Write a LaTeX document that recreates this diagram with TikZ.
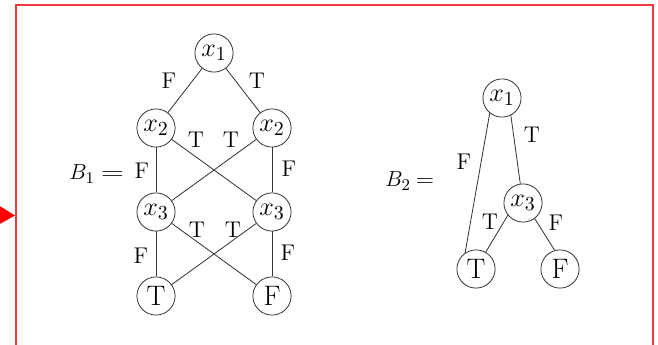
\documentclass[tikz,border=0pt]{standalone}
\usepackage{graphicx}
\begin{document}
\begin{tikzpicture}[x=0.55pt,y=-0.55pt,
  vnode/.style={circle,draw=black!80,line width=0.45pt,minimum size=21pt,inner sep=0pt,font=\fontsize{15.5}{17}\selectfont},
  edge/.style={draw=black!80,line width=0.45pt},
  lbl/.style={inner sep=0pt,font=\fontsize{12.5}{14}\selectfont},
  blbl/.style={inner sep=0pt,anchor=west,font=\fontsize{12.5}{14}\selectfont},
  frame/.style={draw={rgb,255:red,238;green,60;blue,60},line width=0.7pt}]
\useasboundingbox (0,0) rectangle (658,345);
% frame
\draw[frame] (16,345) -- (16,5) -- (653,5) -- (653,345);
\fill[red] (-2,205) -- (15,215.5) -- (-2,225) -- cycle;
% B1
\node[vnode] (a1) at (214,53) {$x_1$};
\node[vnode] (a2l) at (156,128) {$x_2$};
\node[vnode] (a2r) at (272,128) {$x_2$};
\node[vnode] (a3l) at (156,212) {$x_3$};
\node[vnode] (a3r) at (272,212) {$x_3$};
\node[vnode] (at) at (156,296) {T};
\node[vnode] (af) at (272,296) {F};
\draw[edge] (a1) -- (a2l);
\draw[edge] (a1) -- (a2r);
\draw[edge] (a2l) -- (a3l);
\draw[edge] (a2l) -- (a3r);
\draw[edge] (a2r) -- (a3l);
\draw[edge] (a2r) -- (a3r);
\draw[edge] (a3l) -- (at);
\draw[edge] (a3l) -- (af);
\draw[edge] (a3r) -- (at);
\draw[edge] (a3r) -- (af);
\node[lbl] (l1) at (169,81) {F};
\node[lbl] (l2) at (257,81) {T};
\node[lbl] (l3) at (196,140) {T};
\node[lbl] (l4) at (231,140) {T};
\node[lbl] (l5) at (142,171) {F};
\node[lbl] (l6) at (289,169) {F};
\node[lbl] (l7) at (197,230) {T};
\node[lbl] (l8) at (233,230) {T};
\node[lbl] (l9) at (141,256) {F};
\node[lbl] (l10) at (288,253) {F};
\node[blbl] (b1) at (69,174) {$B_1\mkern5mu\scalebox{1.4}[1]{$=$}$};
% B2
\node[vnode] (c1) at (502,98) {$x_1$};
\node[vnode] (c3) at (523,203) {$x_3$};
\node[vnode] (ct) at (476,269) {T};
\node[vnode] (cf) at (560,269) {F};
\draw[edge] (c1.231) -- (ct.124);
\draw[edge] (c1.297) -- (c3.98);
\draw[edge] (c3.219) -- (ct.60);
\draw[edge] (c3.307) -- (cf.106);
\node[lbl] (m1) at (464,162) {F};
\node[lbl] (m2) at (532,135) {T};
\node[lbl] (m3) at (490,222) {T};
\node[lbl] (m4) at (556,223) {F};
\node[blbl] (b2) at (385,181) {$B_2\mkern4mu\scalebox{1.1}[1]{$=$}$};
\end{tikzpicture}
\end{document}
